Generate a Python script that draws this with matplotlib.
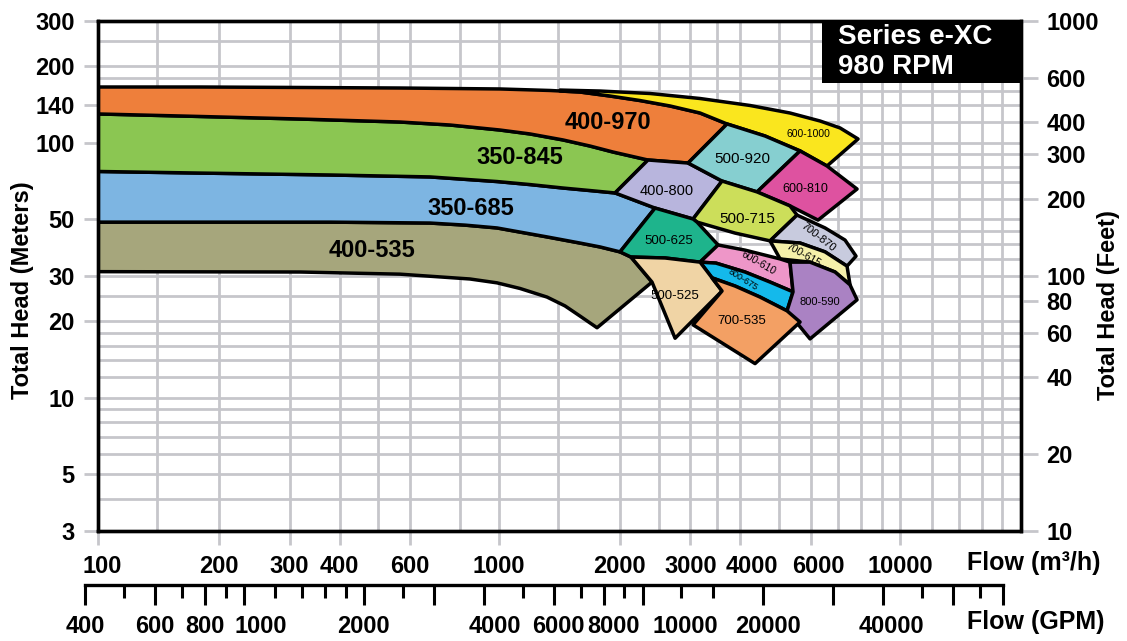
import matplotlib
matplotlib.use("Agg")
import matplotlib.pyplot as plt
from matplotlib.ticker import FixedLocator, FixedFormatter, NullFormatter, NullLocator
from matplotlib.patches import Rectangle
from matplotlib.transforms import ScaledTranslation

plt.rcParams['font.family'] = ['Liberation Sans', 'DejaVu Sans']
plt.rcParams['font.weight'] = 'bold'

# ---- chart data: (flow m3/h, head m) ----
# long impeller curves shared by neighbouring bands
top_400_970 = [(100, 165.3), (179, 165.3), (319, 164.6), (566, 163.8), (754, 163.1), (1005, 162.4),
               (1340, 160.2), (1591, 158.0), (1891, 152.4), (2247, 146.3), (2669, 139.3),
               (3172, 130.7), (3704, 118.4)]
top_600_1000 = [(1419, 160.8), (1786, 159.4), (2379, 155.9), (3172, 149.0), (4227, 139.9),
                (5318, 130.7), (6321, 121.6), (7090, 114.2), (7862, 103.4)]
bot_400_970 = [(100, 129.6), (179, 126.7), (319, 123.8), (566, 120.5), (754, 117.3), (1005, 112.1),
               (1194, 108.2), (1443, 102.5), (1686, 97.0), (1924, 91.9), (2352, 85.5)]
bot_350_845 = [(100, 77.1), (179, 76.0), (379, 74.7), (672, 73.4), (988, 70.4), (1194, 68.5),
               (1443, 66.4), (1686, 64.9), (1947, 63.5)]
bot_350_685 = [(100, 48.8), (379, 48.8), (672, 48.4), (822, 47.5), (988, 46.3), (1128, 44.6),
               (1317, 42.7), (1591, 40.4), (1786, 39.0), (2003, 37.3)]
bot_400_535 = [(100, 31.2), (319, 31.1), (566, 30.5), (846, 29.2), (988, 28.2), (1128, 26.8),
               (1317, 24.8), (1460, 22.9), (1591, 20.9), (1755, 18.8)]

# right-hand ends of the big bands
end_600_1000 = [(6578, 81.0), (5634, 92.8), (4607, 106.2)]
end_400_970 = [(2961, 83.2)]
end_350_685 = [(2449, 55.4)]
end_400_535 = [(2133, 35.6), (2407, 28.4)]

# small selection tiles
pts_400_800 = [(1947, 63.5), (2352, 85.5), (2961, 83.2), (3599, 70.7), (3047, 50.2), (2449, 55.4)]
pts_500_920 = [(3704, 118.4), (4607, 106.2), (5634, 92.8), (4401, 64.1), (3599, 70.7), (2961, 83.2)]
pts_600_810 = [(5634, 92.8), (6578, 81.0), (7817, 65.8), (6248, 49.7), (5318, 56.5), (4401, 64.1)]
pts_500_715 = [(3599, 70.7), (4401, 64.1), (5318, 56.5), (5537, 52.0), (4742, 41.2), (3878, 44.2),
               (3118, 48.8), (3047, 50.2)]
pts_500_625 = [(2449, 55.4), (3047, 50.2), (3118, 48.8), (3518, 39.7), (3172, 34.0), (2594, 35.3),
               (2133, 35.6), (2003, 37.3)]
pts_700_870 = [(5537, 52.0), (6504, 46.3), (7295, 41.5), (7771, 35.9), (7379, 32.8), (6504, 37.3),
               (5634, 40.4), (4742, 41.2)]
pts_700_615 = [(4742, 41.2), (5634, 40.4), (6504, 37.3), (7379, 32.8), (7507, 27.7), (6889, 31.1),
               (5966, 34.0), (5023, 35.0)]
pts_600_610 = [(3518, 39.7), (4107, 37.9), (5023, 35.0), (5318, 34.0), (5411, 26.0), (4742, 28.4),
               (4107, 31.1), (3476, 33.7), (3172, 34.0)]
pts_800_675 = [(3172, 34.0), (3476, 33.7), (4107, 31.1), (4742, 28.4), (5411, 26.0), (5228, 21.9),
               (4477, 24.8), (3878, 27.4), (3398, 29.5)]
pts_800_590 = [(5318, 34.0), (5966, 34.0), (6889, 31.1), (7507, 27.7), (7817, 24.2), (5966, 17.0),
               (5228, 21.9), (5411, 26.0)]
pts_500_525 = [(2133, 35.6), (2594, 35.3), (3172, 34.0), (3398, 29.5), (3599, 26.2), (2748, 17.1),
               (2407, 28.4)]
pts_700_535 = [(3398, 29.5), (3878, 27.4), (4477, 24.8), (5228, 21.9), (5634, 19.8), (4350, 13.6),
               (3047, 19.3), (3599, 26.2)]

# axis ticks
flow_ticks = [100, 200, 300, 400, 600, 1000, 2000, 3000, 4000, 6000, 10000]
flow_grid = [140, 500, 800, 1400, 2500, 3500, 5000, 7000, 8000, 9000, 12000, 14000, 16000, 18000]
head_ticks = [3, 5, 10, 20, 30, 50, 100, 140, 200, 300]
head_grid = [4, 6, 7, 8, 9, 12, 14, 16, 18, 25, 35, 40, 45, 60, 70, 80, 90, 120, 160, 180, 250]
feet_ticks = [10, 20, 40, 60, 80, 100, 200, 300, 400, 600, 1000]
gpm_long = [400, 600, 800, 1000, 2000, 3000, 4000, 6000, 8000, 10000, 20000, 30000, 40000,
            60000, 80000]
gpm_labels = ['400', '600', '800', '1000', '2000', '', '4000', '6000', '8000', '10000', '20000',
              '', '40000', '', '']
gpm_short = [500, 700, 900, 1200, 1400, 1600, 1800, 2500, 5000, 7000, 9000, 12500, 15000,
             50000, 70000]

# polygons built from the curves above
pts_400_535 = bot_350_685 + end_400_535 + bot_400_535[::-1]
pts_350_685 = bot_350_845 + end_350_685 + bot_350_685[::-1]
pts_350_845 = bot_400_970 + bot_350_845[::-1]
pts_400_970 = top_400_970 + end_400_970 + bot_400_970[::-1]
pts_600_1000 = top_600_1000 + end_600_1000 + [p for p in top_400_970[::-1] if p[0] >= 1500] + [(1419, 159.4)]

shapes = [
    (pts_400_535, '#A6A67C', '400-535', (482, 37.6), 17, 0, 'bold'),
    (pts_350_685, '#7DB5E2', '350-685', (851, 55.4), 17, 0, 'bold'),
    (pts_350_845, '#8BC652', '350-845', (1128, 87.8), 17, 0, 'bold'),
    (pts_400_970, '#EE7F3B', '400-970', (1869, 120), 17, 0, 'bold'),
    (pts_600_1000, '#FAE61E', '600-1000', (5900, 108), 7.5, 0, 'normal'),
    (pts_400_800, '#B8B5DD', '400-800', (2624, 64.6), 10.5, 0, 'normal'),
    (pts_500_920, '#86CFD0', '500-920', (4037, 86.3), 11, 0, 'normal'),
    (pts_600_810, '#DE52A0', '600-810', (5797, 65.8), 9, 0, 'normal'),
    (pts_500_715, '#CCDE5A', '500-715', (4155, 50.2), 11, 0, 'normal'),
    (pts_500_625, '#1EB48C', '500-625', (2654, 41.2), 9.5, 0, 'normal'),
    (pts_700_870, '#C8CBDE', '700-870', (6248, 42.7), 8, -38, 'normal'),
    (pts_700_615, '#F5F0AA', '700-615', (5730, 36.3), 7.5, -30, 'normal'),
    (pts_600_610, '#EE96C8', '600-610', (4426, 33.7), 7.5, -30, 'normal'),
    (pts_800_675, '#14B9EB', '800-675', (4060, 29.0), 6.5, -32, 'normal'),
    (pts_800_590, '#AA82C3', '800-590', (6321, 23.7), 8, 0, 'normal'),
    (pts_500_525, '#F0D4A5', '500-525', (2748, 25.1), 9.5, 0, 'normal'),
    (pts_700_535, '#F3A064', '700-535', (4037, 20.0), 9.5, 0, 'normal'),
]

W, H = 1127, 641
grid_c = '#C6C6CB'


def nudge(labels, amounts, fig):
    for lab in labels:
        dx = amounts.get(lab.get_text(), 0)
        if dx:
            lab.set_transform(lab.get_transform() + ScaledTranslation(dx / 72, 0, fig.dpi_scale_trans))


def main():
    fig = plt.figure(figsize=(W / 100, H / 100), dpi=100)
    ax = fig.add_axes([98.3 / W, 1 - 531 / H, 922.3 / W, 510 / H])
    ax.set_xscale('log')
    ax.set_yscale('log')
    ax.set_xlim(100, 20000)
    ax.set_ylim(3, 300)

    ax.xaxis.set_major_locator(FixedLocator(flow_ticks))
    ax.xaxis.set_major_formatter(FixedFormatter([str(v) for v in flow_ticks]))
    ax.xaxis.set_minor_locator(FixedLocator(flow_grid))
    ax.xaxis.set_minor_formatter(NullFormatter())
    ax.yaxis.set_major_locator(FixedLocator(head_ticks))
    ax.yaxis.set_major_formatter(FixedFormatter([str(v) for v in head_ticks]))
    ax.yaxis.set_minor_locator(FixedLocator(head_grid))
    ax.yaxis.set_minor_formatter(NullFormatter())
    ax.set_axisbelow(True)
    ax.grid(which='both', color=grid_c, linewidth=2.0)
    ax.tick_params(which='major', direction='out', length=10, width=2, color=grid_c,
                   pad=7, labelsize=17)
    ax.tick_params(which='minor', length=0)
    for s in ax.spines.values():
        s.set_linewidth(2.4)
    for t in ax.xaxis.get_major_ticks():
        if t.get_loc() == 100:
            t.tick1line.set_visible(False)
    for t in ax.yaxis.get_major_ticks():
        if t.get_loc() in (3, 300):
            t.tick1line.set_visible(False)
    nudge(ax.get_xticklabels(), {'100': 3, '4000': 8.5, '6000': 5}, fig)

    for pts, col, name, pos, fs, rot, wt in shapes:
        q = [p[0] for p in pts]
        h = [p[1] for p in pts]
        ax.fill(q, h, facecolor=col, edgecolor='black', linewidth=2.5, joinstyle='round', zorder=2)
    for pts, col, name, pos, fs, rot, wt in shapes:
        ax.text(pos[0], pos[1], name, fontsize=fs, rotation=rot, fontweight=wt,
                ha='center', va='center', zorder=5, rotation_mode='anchor')

    # right axis in feet
    ax2 = ax.twinx()
    ax2.set_yscale('log')
    ax2.set_ylim(10, 1000)
    ax2.yaxis.set_major_locator(FixedLocator(feet_ticks))
    ax2.yaxis.set_major_formatter(FixedFormatter([str(v) for v in feet_ticks]))
    ax2.yaxis.set_minor_locator(NullLocator())
    ax2.tick_params(which='major', direction='out', length=12, width=2, color=grid_c,
                    pad=6.5, labelsize=17)
    for s in ax2.spines.values():
        s.set_linewidth(2.4)
    for t in ax2.yaxis.get_major_ticks():
        if t.get_loc() in (10, 600, 1000):
            t.tick2line.set_visible(False)

    # GPM scale under the chart
    axg = fig.add_axes([85 / W, 1 - 585 / H, 918 / W, 0.001])
    axg.set_xscale('log')
    axg.set_xlim(400, 80000)
    axg.set_yticks([])
    axg.patch.set_visible(False)
    for s in ['top', 'left', 'right']:
        axg.spines[s].set_visible(False)
    axg.spines['bottom'].set_linewidth(2.4)
    axg.xaxis.set_major_locator(FixedLocator(gpm_long))
    axg.xaxis.set_major_formatter(FixedFormatter(gpm_labels))
    axg.xaxis.set_minor_locator(FixedLocator(gpm_short))
    axg.xaxis.set_minor_formatter(NullFormatter())
    axg.tick_params(which='major', direction='out', length=14.4, width=2.2, color='black',
                    pad=7, labelsize=17)
    axg.tick_params(which='minor', direction='out', length=9.4, width=2.2, color='black')
    nudge(axg.get_xticklabels(), {'1000': 12, '4000': 8, '6000': 3, '8000': 7, '10000': 31,
                                  '20000': 3.5, '40000': 6}, fig)

    # title box and axis names
    fig.add_artist(Rectangle((822 / W, 1 - 83 / H), 200 / W, 63 / H, transform=fig.transFigure,
                             facecolor='black', edgecolor='none', zorder=10))
    fig.text(838 / W, 1 - 37 / H, 'Series e-XC', color='white', fontsize=20, va='center', zorder=11)
    fig.text(838 / W, 1 - 67 / H, '980 RPM', color='white', fontsize=20, va='center', zorder=11)
    fig.text(23 / W, 1 - 290 / H, 'Total Head (Meters)', rotation=90, fontsize=17,
             ha='center', va='center')
    fig.text(1108 / W, 1 - 305 / H, 'Total Head (Feet)', rotation=90, fontsize=17,
             ha='center', va='center')
    fig.text(967 / W, 1 - 563 / H, 'Flow (m³/h)', fontsize=18, va='center')
    fig.text(967 / W, 1 - 622 / H, 'Flow (GPM)', fontsize=18, va='center')

    fig.savefig('out.png', dpi=100)


if __name__ == "__main__":
    main()
